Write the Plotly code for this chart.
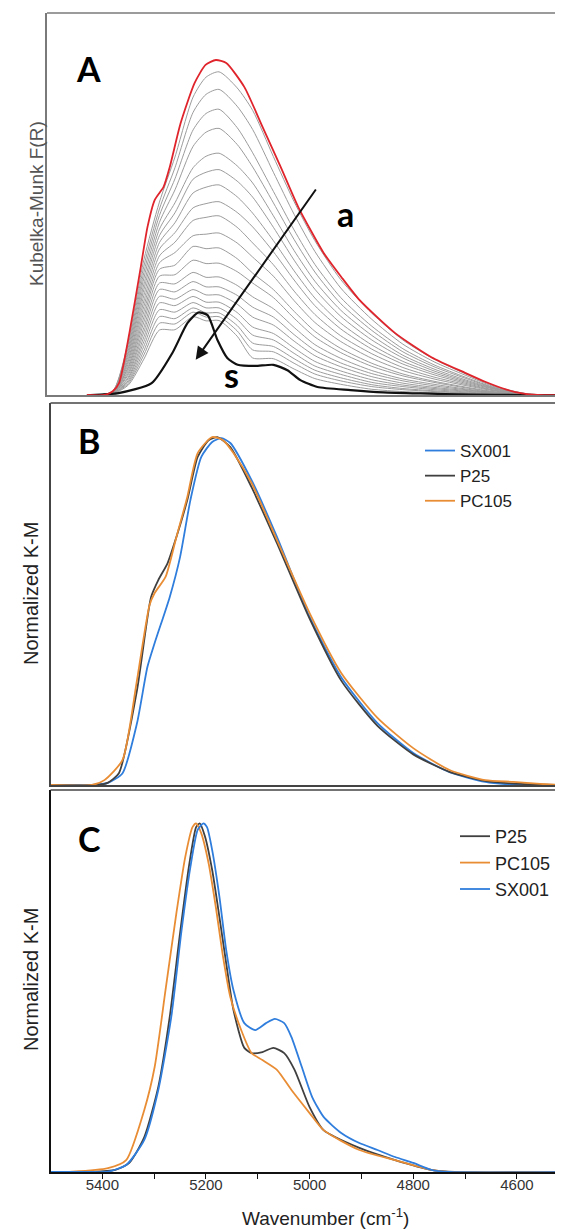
import plotly.graph_objects as go

# page body has an 8px default margin; the figure is sized/positioned to compensate
OFF = 8
W, H = 563 - OFF, 1230 - OFF
X_END = 4511  # wavenumber at the right edge of the figure

# ---------------- Panel A data (Kubelka-Munk, arbitrary units) ----------------
red_wn = [5430, 5396, 5380, 5368, 5348, 5326, 5313, 5299, 5282, 5270, 5249, 5222, 5201, 5181,
          5161, 5126, 5091, 5056, 5022, 4973, 4939, 4904, 4835, 4765, 4700, 4660, 4620, 4590, 4560, 4520]
red_v = [0, 0, 0.010, 0.031, 0.162, 0.335, 0.440, 0.511, 0.545, 0.597, 0.712, 0.817, 0.864, 0.877,
         0.869, 0.806, 0.702, 0.597, 0.492, 0.372, 0.309, 0.249, 0.162, 0.099, 0.058, 0.034, 0.014, 0.004, 0, 0]

s_wn = [5430, 5423, 5369, 5305, 5265, 5236, 5215, 5197, 5178, 5159, 5139, 5105, 5070, 5043, 5018,
        4985, 4921, 4858, 4786, 4690, 4594, 4520]
s_v = [0, 0, 0.005, 0.031, 0.110, 0.188, 0.216, 0.209, 0.144, 0.097, 0.079, 0.076, 0.079, 0.065,
       0.039, 0.021, 0.013, 0.007, 0.004, 0.001, 0, 0]

gray_wn = [5410, 5380, 5350, 5320, 5290, 5260, 5225, 5200, 5175, 5140, 5110, 5070, 5030, 4990,
           4940, 4880, 4820, 4760, 4700, 4640, 4580, 4530]
g00 = [0, .010, .141, .354, .505, .623, .780, .832, .846, .804, .745, .624, .506, .404, .302, .214, .144, .094, .056, .022, .003, 0]
g01 = [0, .010, .133, .337, .487, .595, .740, .787, .800, .756, .695, .583, .473, .376, .280, .198, .133, .087, .052, .020, .003, 0]
g02 = [0, .009, .125, .321, .470, .566, .694, .737, .748, .700, .634, .533, .432, .342, .255, .180, .121, .079, .047, .018, .003, 0]
g03 = [0, .009, .117, .306, .452, .537, .651, .688, .698, .656, .597, .503, .407, .322, .239, .169, .113, .074, .044, .017, .002, 0]
g04 = [0, .009, .110, .290, .434, .503, .595, .625, .633, .600, .555, .469, .378, .298, .222, .156, .104, .068, .040, .016, .002, 0]
g05 = [0, .008, .103, .276, .417, .477, .565, .583, .590, .560, .518, .439, .353, .277, .206, .144, .097, .063, .037, .015, .002, 0]
g06 = [0, .008, .095, .261, .399, .451, .529, .544, .550, .519, .476, .404, .325, .254, .188, .131, .088, .058, .034, .014, .002, 0]
g07 = [0, .008, .089, .246, .382, .425, .490, .501, .506, .478, .440, .375, .301, .234, .173, .120, .081, .053, .031, .012, .002, 0]
g08 = [0, .007, .082, .232, .364, .400, .457, .465, .469, .439, .398, .341, .272, .211, .155, .108, .072, .047, .028, .011, .001, 0]
g09 = [0, .007, .075, .218, .346, .373, .417, .421, .424, .398, .361, .311, .247, .190, .140, .096, .064, .042, .025, .010, .001, 0]
g10 = [0, .007, .070, .204, .329, .340, .389, .383, .385, .357, .319, .276, .219, .167, .122, .083, .055, .036, .021, .008, .001, 0]
g11 = [0, .006, .064, .191, .311, .315, .353, .344, .345, .323, .293, .255, .201, .152, .111, .075, .050, .033, .019, .007, .001, 0]
g12 = [0, .006, .058, .177, .293, .291, .321, .308, .309, .287, .257, .226, .177, .132, .096, .064, .042, .028, .016, .006, .001, 0]
g13 = [0, .006, .053, .165, .276, .270, .297, .283, .283, .261, .230, .204, .158, .117, .084, .056, .037, .024, .014, .005, 0, 0]
g14 = [0, .005, .047, .152, .258, .251, .276, .262, .262, .238, .204, .183, .141, .103, .074, .048, .031, .020, .012, .005, 0, 0]
g15 = [0, .005, .043, .140, .241, .234, .258, .243, .243, .216, .178, .161, .123, .088, .063, .040, .026, .017, .010, .004, 0, 0]
g16 = [0, .004, .038, .128, .223, .217, .242, .228, .228, .198, .157, .144, .109, .076, .054, .033, .022, .014, .008, .003, 0, 0]
g17 = [0, .004, .034, .116, .205, .200, .228, .215, .215, .182, .136, .127, .095, .065, .045, .027, .017, .011, .006, .003, 0, 0]
g18 = [0, .004, .030, .105, .188, .186, .217, .204, .205, .168, .118, .113, .083, .055, .037, .022, .014, .009, .005, .002, 0, 0]
g19 = [0, .003, .026, .094, .170, .171, .205, .194, .195, .154, .097, .095, .068, .043, .028, .015, .009, .006, .004, .002, 0, 0]
gray_series = [g00, g01, g02, g03, g04, g05, g06, g07, g08, g09,
               g10, g11, g12, g13, g14, g15, g16, g17, g18, g19]

# ---------------- Panel B data (normalized K-M) ----------------
b_sx_wn = [5500, 5420, 5389, 5361, 5333, 5313, 5299, 5270, 5250, 5230, 5209, 5188, 5170, 5153, 5112,
           5063, 5000, 4939, 4869, 4800, 4730, 4661, 4592, 4511]
b_sx_v = [0, 0, 0.006, 0.034, 0.178, 0.339, 0.408, 0.540, 0.655, 0.819, 0.943, 0.986, 0.997, 0.983,
          0.876, 0.713, 0.483, 0.310, 0.178, 0.092, 0.037, 0.009, 0, 0]
b_p25_wn = [5500, 5410, 5390, 5368, 5333, 5306, 5292, 5274, 5257, 5236, 5216, 5195, 5178, 5153, 5112,
            5063, 5000, 4939, 4869, 4800, 4730, 4661, 4592, 4511]
b_p25_v = [0, 0, 0.006, 0.034, 0.273, 0.540, 0.589, 0.638, 0.713, 0.819, 0.943, 0.991, 1.0, 0.971,
           0.856, 0.695, 0.478, 0.300, 0.170, 0.088, 0.038, 0.012, 0.003, 0]
b_pc_wn = [5500, 5420, 5396, 5361, 5334, 5309, 5299, 5278, 5257, 5236, 5216, 5188, 5167, 5147, 5112,
           5063, 5000, 4939, 4869, 4800, 4730, 4661, 4607, 4555, 4511]
b_pc_v = [0, 0, 0.014, 0.072, 0.293, 0.517, 0.552, 0.598, 0.713, 0.828, 0.954, 1.0, 0.991, 0.954,
          0.868, 0.704, 0.494, 0.322, 0.193, 0.106, 0.043, 0.014, 0.009, 0.003, 0]

# ---------------- Panel C data (normalized K-M) ----------------
c_p25_wn = [5500, 5420, 5375, 5348, 5319, 5292, 5270, 5250, 5233, 5219, 5212, 5202, 5188, 5174, 5161,
            5147, 5126, 5112, 5091, 5070, 5049, 5029, 5000, 4973, 4904, 4835, 4765, 4720, 4511]
c_p25_v = [0, 0, 0.006, 0.026, 0.100, 0.244, 0.444, 0.685, 0.875, 0.989, 1.0, 0.963, 0.866, 0.731,
           0.599, 0.465, 0.356, 0.341, 0.344, 0.356, 0.341, 0.293, 0.186, 0.120, 0.069, 0.034, 0.006, 0, 0]
c_pc_wn = [5500, 5458, 5389, 5354, 5319, 5299, 5278, 5257, 5240, 5226, 5219, 5209, 5195, 5181, 5167,
           5153, 5132, 5112, 5091, 5063, 5035, 5000, 4973, 4904, 4835, 4765, 4731, 4511]
c_pc_v = [0, 0.001, 0.011, 0.034, 0.178, 0.301, 0.522, 0.743, 0.903, 0.989, 1.0, 0.971, 0.886, 0.760,
          0.617, 0.502, 0.407, 0.341, 0.321, 0.293, 0.235, 0.169, 0.120, 0.063, 0.034, 0.006, 0, 0]
c_sx_wn = [5500, 5420, 5389, 5354, 5319, 5292, 5267, 5247, 5230, 5216, 5205, 5198, 5188, 5174, 5161,
           5147, 5126, 5105, 5084, 5067, 5049, 5035, 5015, 4995, 4973, 4939, 4904, 4869, 4835, 4800,
           4765, 4731, 4511]
c_sx_v = [0, 0, 0.001, 0.020, 0.092, 0.235, 0.444, 0.694, 0.875, 0.981, 1.0, 0.989, 0.923, 0.789,
          0.637, 0.522, 0.427, 0.407, 0.427, 0.439, 0.427, 0.387, 0.301, 0.215, 0.158, 0.112, 0.083,
          0.063, 0.043, 0.026, 0.006, 0, 0]

x_ticks = [5400, 5200, 5000, 4800, 4600]
x_minor = [5300, 5100, 4900, 4700]

# ---------------- colours ----------------
BLUE = "#2f7ddc"
DARK = "#404040"
ORANGE = "#e98d35"
GRAY = "#9c9c9c"
RED = "#e0242c"


def px(x):
    return (x - OFF) / W


def py(y):
    return 1 - (y - OFF) / H


fig = go.Figure()

# Panel A
for g in gray_series:
    fig.add_trace(go.Scatter(x=gray_wn, y=g, mode="lines", line=dict(color=GRAY, width=1, shape="spline", smoothing=0.7),
                             xaxis="x", yaxis="y", showlegend=False, hoverinfo="skip"))
fig.add_trace(go.Scatter(x=s_wn, y=s_v, mode="lines", line=dict(color="#111111", width=2.2, shape="spline", smoothing=0.6),
                         xaxis="x", yaxis="y", showlegend=False))
fig.add_trace(go.Scatter(x=red_wn, y=red_v, mode="lines", line=dict(color=RED, width=1.8, shape="spline", smoothing=0.6),
                         xaxis="x", yaxis="y", showlegend=False))

# Panel B
for name, xs, ys, col in [("SX001", b_sx_wn, b_sx_v, BLUE), ("P25", b_p25_wn, b_p25_v, DARK), ("PC105", b_pc_wn, b_pc_v, ORANGE)]:
    fig.add_trace(go.Scatter(x=xs, y=ys, name=name, mode="lines", line=dict(color=col, width=1.8, shape="spline", smoothing=0.6),
                             xaxis="x2", yaxis="y2", legend="legend"))

# Panel C
for name, xs, ys, col in [("P25", c_p25_wn, c_p25_v, DARK), ("PC105", c_pc_wn, c_pc_v, ORANGE), ("SX001", c_sx_wn, c_sx_v, BLUE)]:
    fig.add_trace(go.Scatter(x=xs, y=ys, name=name, mode="lines", line=dict(color=col, width=1.8, shape="spline", smoothing=0.6),
                             xaxis="x3", yaxis="y3", legend="legend2"))

A_top, A_bot = 13, 395
B_top, B_bot = 403, 785
C_top, C_bot = 790, 1172
xl_A, xl = 47, 50.5

common_y = dict(showticklabels=False, ticks="", showgrid=False, zeroline=False, showline=True)
common_x = dict(showgrid=False, zeroline=False, showline=True)

fig.update_layout(
    width=W, height=H, margin=dict(l=0, r=0, t=0, b=0),
    paper_bgcolor="white", plot_bgcolor="white",
    font=dict(family="Liberation Sans, Arial, sans-serif", color="#222"),
    xaxis=dict(domain=[px(xl_A), 1], range=[5507, X_END], anchor="y", showticklabels=False, ticks="",
               linecolor="#7a7a7a", linewidth=1.5, **common_x),
    yaxis=dict(domain=[py(A_bot), py(A_top)], range=[0, 1.0], anchor="x", linecolor="#7a7a7a", linewidth=1.5, **common_y),
    xaxis2=dict(domain=[px(xl), 1], range=[5500, X_END], anchor="y2", showticklabels=False, ticks="",
                linecolor="#444", linewidth=1.5, **common_x),
    yaxis2=dict(domain=[py(B_bot), py(B_top)], range=[0, 1.098], anchor="x2", linecolor="#444", linewidth=1.5, **common_y),
    xaxis3=dict(domain=[px(xl), 1], range=[5500, X_END], anchor="y3", tickmode="array", tickvals=x_ticks,
                ticks="outside", ticklen=5, tickwidth=1.2, tickcolor="#111", ticklabelstandoff=-7,
                minor=dict(tickmode="array", tickvals=x_minor, ticks="outside", ticklen=5, tickwidth=1.2, tickcolor="#111"),
                tickfont=dict(size=15, color="#333"), linecolor="#111", linewidth=1.5, **common_x),
    yaxis3=dict(domain=[py(C_bot), py(C_top)], range=[0, 1.0955], anchor="x3", linecolor="#111", linewidth=1.5, **common_y),
    legend=dict(x=px(420), y=py(433), xanchor="left", yanchor="top", bgcolor="rgba(0,0,0,0)",
                font=dict(size=17, color="#222"), tracegroupgap=0),
    legend2=dict(x=px(455), y=py(818), xanchor="left", yanchor="top", bgcolor="rgba(0,0,0,0)",
                 font=dict(size=18, color="#222"), tracegroupgap=0),
)

# top borders of the panels
for ytop, x0, col in [(A_top, xl_A, "#7a7a7a"), (B_top, xl, "#444"), (C_top, xl, "#444")]:
    fig.add_shape(type="line", xref="paper", yref="paper", x0=px(x0), x1=1, y0=py(ytop), y1=py(ytop),
                  line=dict(color=col, width=1.5))


def label(x, y, text, font, angle=0):
    fig.add_annotation(xref="paper", yref="paper", x=px(x), y=py(y), text=text, showarrow=False,
                       xanchor="center", yanchor="middle", textangle=angle, font=font)


letter_font = dict(family="Lato, Open Sans, sans-serif", size=34, color="black")
label(88, 68, "<b>A</b>", letter_font)
label(89, 440, "<b>B</b>", letter_font)
label(89, 838, "<b>C</b>", letter_font)
label(345, 213, "<b>a</b>", letter_font)
label(231, 374, "<b>s</b>", letter_font)

# arrow a -> s
fig.add_annotation(x=5220, y=0.092, ax=4986, ay=0.542, xref="x", yref="y", axref="x", ayref="y",
                   text="", showarrow=True, arrowhead=2, arrowsize=1.3, arrowwidth=2, arrowcolor="#111")

# axis titles
label(36, 204, "Kubelka-Munk F(R)", dict(size=19, color="#555"), -90)
label(31, 594, "Normalized K-M", dict(size=20, color="#222"), -90)
label(31, 980, "Normalized K-M", dict(size=20, color="#222"), -90)
label(325, 1217, "Wavenumber (cm<sup>-1</sup>)", dict(size=19, color="#222"))

fig.write_html("out.html")
